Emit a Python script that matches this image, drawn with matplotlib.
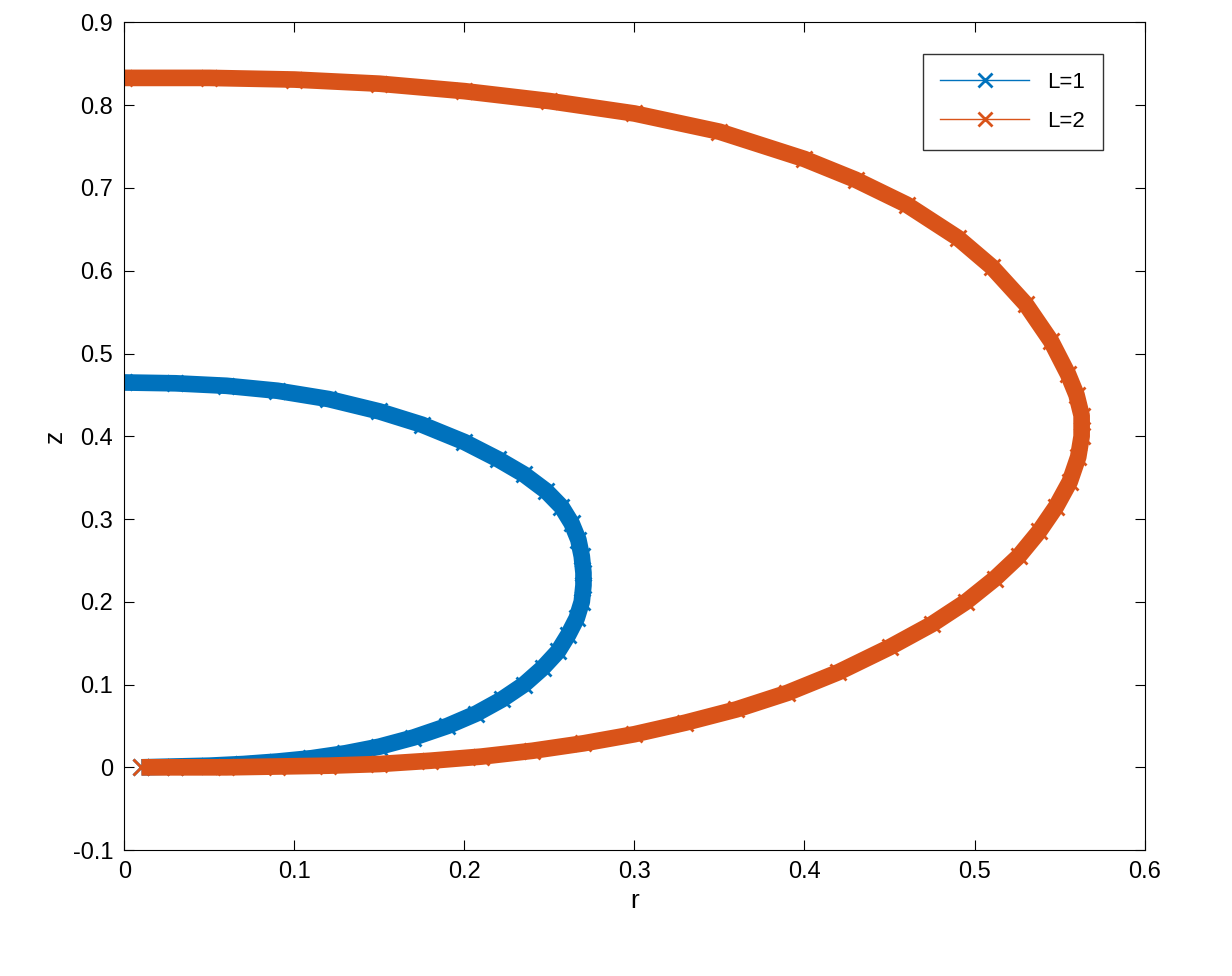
import matplotlib
matplotlib.use("Agg")
import matplotlib.pyplot as plt
from matplotlib.lines import Line2D

plt.rcParams['font.family'] = ['Liberation Sans', 'DejaVu Sans']

r1 = [0.0, 0.03, 0.06, 0.09, 0.12, 0.15, 0.175, 0.2, 0.22, 0.235, 0.248, 0.257, 0.263, 0.267, 0.269, 0.27, 0.27, 0.269, 0.266, 0.261, 0.255, 0.246, 0.235, 0.222, 0.207, 0.19, 0.17, 0.15, 0.13, 0.11, 0.09, 0.07, 0.05, 0.03, 0.01]
z1 = [0.465, 0.464, 0.461, 0.455, 0.445, 0.43, 0.414, 0.393, 0.372, 0.354, 0.334, 0.315, 0.295, 0.275, 0.255, 0.235, 0.22, 0.2, 0.18, 0.16, 0.14, 0.12, 0.1, 0.082, 0.065, 0.05, 0.036, 0.025, 0.017, 0.011, 0.007, 0.004, 0.002, 0.001, 0.0]
r2 = [0.0, 0.05, 0.1, 0.15, 0.2, 0.25, 0.3, 0.35, 0.4, 0.43, 0.46, 0.49, 0.51, 0.53, 0.545, 0.555, 0.56, 0.563, 0.563, 0.561, 0.556, 0.548, 0.538, 0.526, 0.512, 0.495, 0.475, 0.45, 0.42, 0.39, 0.36, 0.33, 0.3, 0.27, 0.24, 0.21, 0.18, 0.15, 0.12, 0.09, 0.06, 0.03, 0.01]
z2 = [0.833, 0.833, 0.831, 0.826, 0.817, 0.805, 0.79, 0.768, 0.735, 0.71, 0.68, 0.64, 0.605, 0.56, 0.515, 0.475, 0.45, 0.425, 0.4, 0.375, 0.345, 0.315, 0.285, 0.255, 0.228, 0.2, 0.173, 0.145, 0.115, 0.09, 0.07, 0.054, 0.04, 0.029, 0.02, 0.013, 0.008, 0.004, 0.002, 0.001, 0.0, 0.0, 0.0]
labels = ["L=1", "L=2"]
colors = ["#0072BD", "#D95319"]

fig = plt.figure(figsize=(12.32, 9.76), dpi=100)
ax = fig.add_axes([0.101, 0.129, 0.828, 0.848])
for r, z, c in [(r1, z1, colors[0]), (r2, z2, colors[1])]:
    ax.plot(r, z, color=c, lw=12, solid_capstyle='butt', solid_joinstyle='round')
    ax.plot(r, z, 'x', color=c, ms=12, mew=2)
ax.set_xlim(0, 0.6)
ax.set_ylim(-0.1, 0.9)
ax.set_xticks([0, 0.1, 0.2, 0.3, 0.4, 0.5, 0.6])
ax.set_xticklabels(["0", "0.1", "0.2", "0.3", "0.4", "0.5", "0.6"])
ax.set_yticks([i / 10 for i in range(-1, 10)])
ax.set_yticklabels(["-0.1", "0"] + [f"0.{i}" for i in range(1, 10)])
ax.tick_params(direction='in', top=True, right=True, labelsize=17, length=7, pad=8)
ax.set_xlabel("r", fontsize=19)
ax.set_ylabel("z", fontsize=19)
handles = [Line2D([], [], color=c, marker='x', ms=10, mew=2, lw=1) for c in colors]
ax.legend(handles, labels, loc='upper right', fontsize=16, fancybox=False, edgecolor='black',
          bbox_to_anchor=(0.97, 0.975), handlelength=4, borderpad=0.8, labelspacing=0.8)
fig.savefig("out.png")
